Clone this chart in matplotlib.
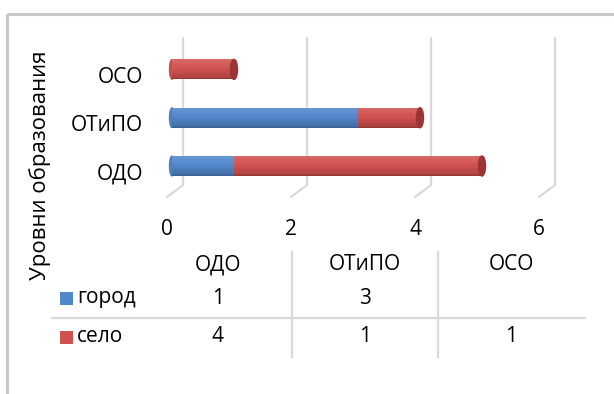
import matplotlib.pyplot as plt
from matplotlib.patches import Ellipse, Rectangle
import numpy as np

plt.rcParams['font.family'] = ['Open Sans', 'DejaVu Sans']

# Data
categories = ['ОДО', 'ОТиПО', 'ОСО']
series_names = ['город', 'село']
gorod = [1, 3, 0]
selo = [4, 1, 1]
table_rows = [['1', '3', ''], ['4', '1', '1']]
x_ticks = [0, 2, 4, 6]
y_title = 'Уровни образования'

base_colors = ['#5287CB', '#D0524F']
edge_colors = ['#3A6296', '#9A3533']
FS = 15

W, H = 614, 394
fig = plt.figure(figsize=(W / 100, H / 100), dpi=100)

# Pixel layout of the plot area
px0, px_unit = 172, 62.0     # x pixel of value 0, pixels per unit
py0, py_step = 166, 48.3     # y pixel of first category, pixels per category
ax = fig.add_axes([0, 0, 1, 1])
ax.set_xlim((0 - px0) / px_unit, (W - px0) / px_unit)
ax.set_ylim((py0 - H) / py_step, py0 / py_step)
ax.axis('off')

back_dx = 11 / px_unit
front_dx = -5 / px_unit
wall_top = (py0 - 38) / py_step
wall_bot = (py0 - 185) / py_step
floor_y = (py0 - 197) / py_step

# back wall gridlines with floor diagonals
for t in x_ticks:
    ax.plot([t + back_dx, t + back_dx, t + front_dx],
            [wall_top, wall_bot, floor_y],
            color='#D9D9D9', lw=1.6, solid_capstyle='round', zorder=1)
    ax.text(t + front_dx, (py0 - 229) / py_step, str(t), ha='center', va='center',
            fontsize=FS)

# shaded cylinder-like bars
bar_h = 20 / py_step
n_strips = 12
shade = np.concatenate([np.linspace(1.12, 1.0, n_strips // 2),
                        np.linspace(0.98, 0.80, n_strips - n_strips // 2)])


def adjust(color, f):
    rgb = np.array(plt.matplotlib.colors.to_rgb(color))
    if f >= 1:
        return tuple(rgb + (1 - rgb) * (f - 1))
    return tuple(rgb * f)


y_pos = np.arange(len(categories))
lefts = np.zeros(len(categories))
for s, vals in enumerate([gorod, selo]):
    vals = np.array(vals, dtype=float)
    for k in range(n_strips):
        # strips ordered from top of the bar downward
        top = bar_h / 2 - k * bar_h / n_strips
        ax.barh(y_pos + top - bar_h / (2 * n_strips), vals, left=lefts,
                height=bar_h / n_strips * 1.05, color=adjust(base_colors[s], shade[k]),
                linewidth=0, zorder=3)
    ax.barh(y_pos - bar_h / 2 + 0.012, vals, left=lefts, height=0.025,
            color=edge_colors[s], linewidth=0, zorder=3.5)
    lefts = lefts + vals

# rounded end caps
for i, total in enumerate(lefts):
    last = 1 if selo[i] > 0 else 0
    ax.add_patch(Ellipse((total, i), 7 / px_unit, bar_h * 1.0,
                         color=edge_colors[last], zorder=4))
    ax.add_patch(Ellipse((0, i), 5 / px_unit, bar_h * 0.98,
                         color=adjust(base_colors[0 if gorod[i] > 0 else 1], 0.95), zorder=2.9))

# category labels sit slightly below the bars (front face of the 3D floor)
for i, cat in enumerate(categories):
    ax.text((143 - px0) / px_unit, i - 8 / py_step, cat, ha='right', va='center', fontsize=FS)

# overlay in pixel coordinates for frame, title and data table
ov = fig.add_axes([0, 0, 1, 1], zorder=-1)
ov.set_xlim(0, W)
ov.set_ylim(H, 0)
ov.axis('off')
ov.add_patch(Rectangle((7, 14), W, H, fill=False, edgecolor='#C8C8C8', lw=2.2))

tx = fig.add_axes([0, 0, 1, 1])
tx.set_xlim(0, W)
tx.set_ylim(H, 0)
tx.axis('off')
tx.text(40, 165, y_title, rotation=90, ha='center', va='center', fontsize=16)

col_x = [218, 365, 511]
for cx, cat in zip(col_x, categories):
    tx.text(cx, 265, cat, ha='center', va='center', fontsize=FS)
row_y = [298, 337]
for r, name in enumerate(series_names):
    tx.add_patch(Rectangle((60, row_y[r] - 6.5), 13, 13, color=base_colors[r], lw=0))
    tx.text(77, row_y[r], name, ha='left', va='center', fontsize=FS)
    for cx, val in zip(col_x, table_rows[r]):
        tx.text(cx, row_y[r], val, ha='center', va='center', fontsize=FS)

for vx in [292, 438]:
    tx.plot([vx, vx], [252, 357], color='#D9D9D9', lw=1.6)
tx.plot([52, 585], [318, 318], color='#D9D9D9', lw=1.6)

fig.savefig('out.png', dpi=100)
